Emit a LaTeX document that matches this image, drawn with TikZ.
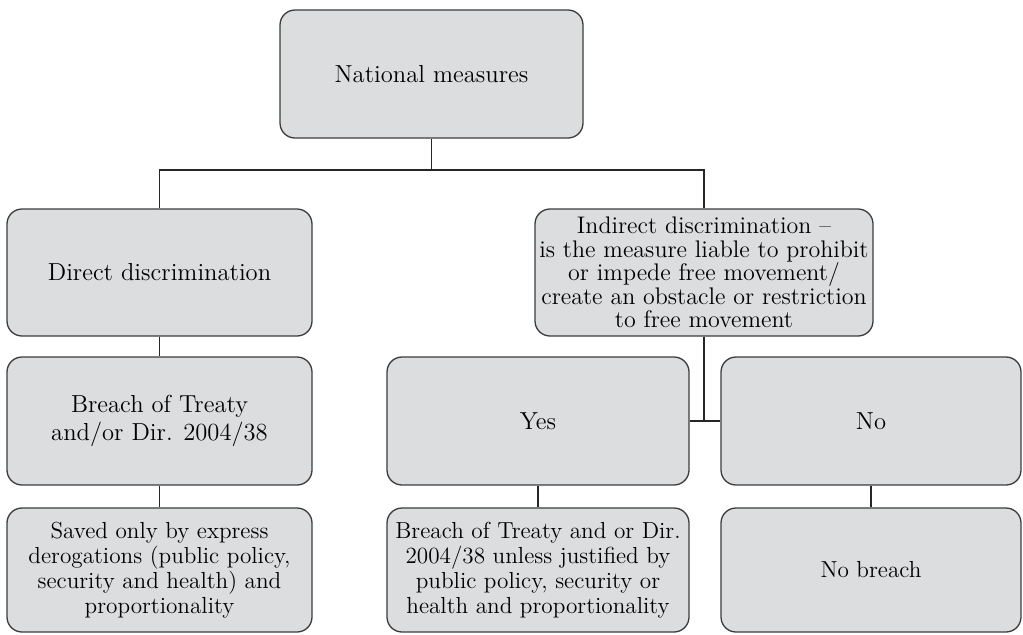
\documentclass[tikz,border=0pt]{standalone}
\usepackage{amsmath,amssymb}
\usepackage{tikz}
\usetikzlibrary{calc,positioning,shapes}
\definecolor{boxfill}{HTML}{DCDDDF}
\definecolor{boxline}{HTML}{3C3C3C}

\begin{document}
\begin{tikzpicture}[x=0.5pt,y=-0.5pt,
		box/.style={draw=boxline,fill=boxfill,line width=0.65pt,rounded corners=7.5pt,
			inner sep=0pt,align=center,font=\fontsize{12.3}{14}\selectfont},
		lowbox/.style={box,minimum height=62pt,font=\fontsize{11.6}{12.5}\selectfont},
		conn/.style={draw=black!85,line width=0.55pt}]
		\useasboundingbox (0,0) rectangle (1023,634);
		% top level
		\node[box,minimum width=151.5pt,minimum height=64pt] (nat) at (431.5,74) {National measures};
		% second level
		\node[box,minimum width=152.5pt,minimum height=63.5pt] (direct) at (159.5,272.5) {Direct discrimination};
		\node[box,minimum width=169pt,minimum height=63.5pt,font=\fontsize{12}{11.8}\selectfont] (indirect) at (704,272.5)
		{Indirect discrimination --\\is the measure liable to prohibit\\or impede free movement/\\create an obstacle or restriction\\to free movement};
		% third level
		\node[box,minimum width=152.5pt,minimum height=64pt] (breach) at (159.5,421) {Breach of Treaty\\and/or Dir. 2004/38};
		\node[box,minimum width=151pt,minimum height=64pt] (yes) at (538,421) {Yes};
		\node[box,minimum width=150pt,minimum height=64pt] (no) at (871,421) {No};
		% bottom level
		\node[lowbox,minimum width=152.5pt] (saved) at (159.5,570)
		{Saved only by express\\derogations (public policy,\\security and health) and\\proportionality};
		\node[lowbox,minimum width=151pt] (yesbr) at (538,570)
		{Breach of Treaty and or Dir.\\2004/38 unless justified by\\public policy, security or\\health and proportionality};
		\node[lowbox,minimum width=150pt] (nobr) at (871,570) {No breach};

		\coordinate (fork) at (431.5,170);
		\coordinate (yn) at (704,421);
		\path[conn]
		(nat.south) -- (fork)
		(direct.north) |- (fork) -| (indirect.north)
		(direct.south) -- (breach.north)
		(breach.south) -- (saved.north)
		(indirect.south) -- (yn)
		(yes.east) -- (no.west)
		(yes.south) -- (yesbr.north)
		(no.south) -- (nobr.north);
	\end{tikzpicture}
\end{document}
